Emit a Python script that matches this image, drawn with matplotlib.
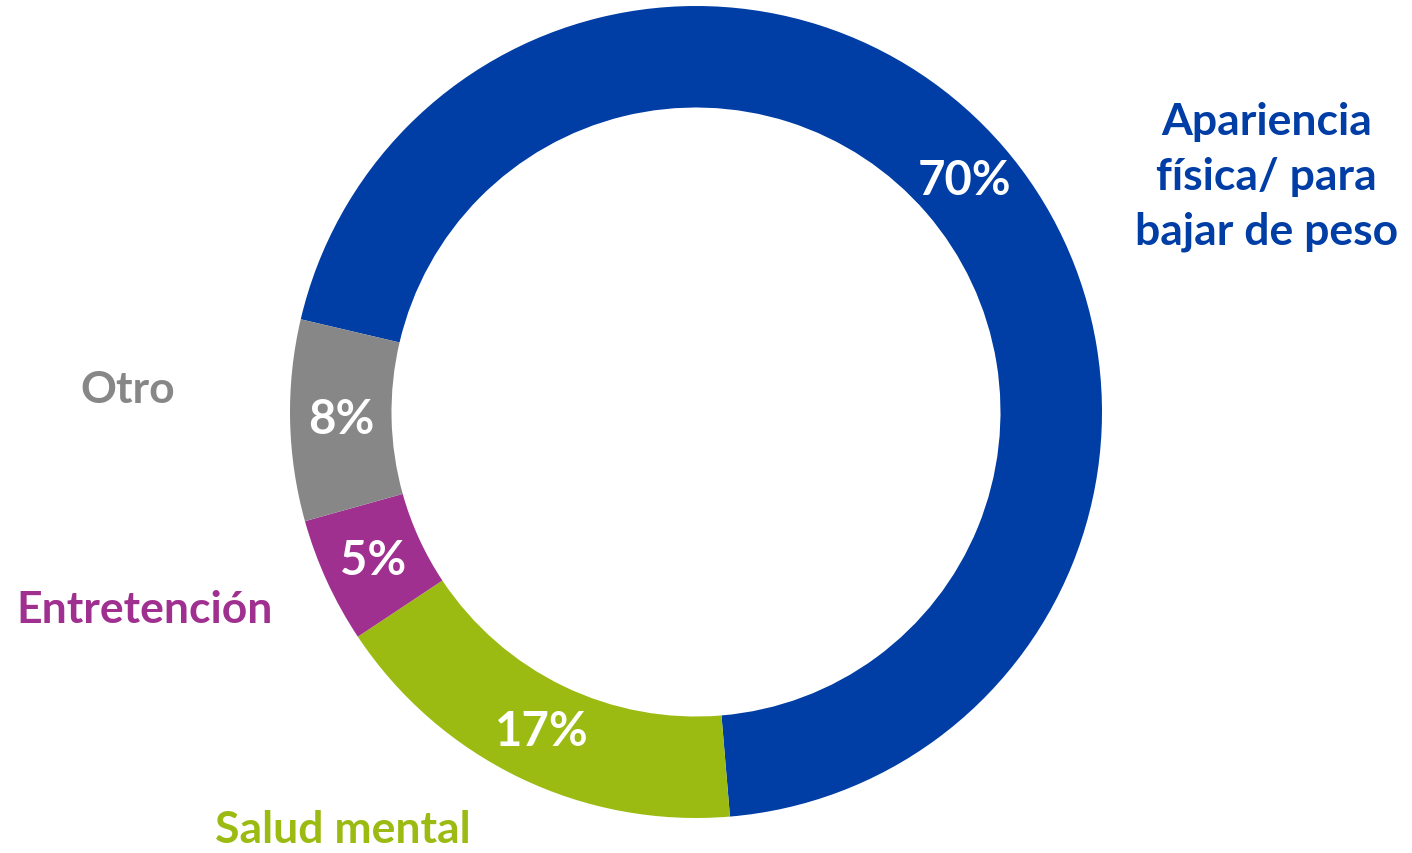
import matplotlib.pyplot as plt

# datos del gráfico
categorias = ["Apariencia\nfísica/ para\nbajar de peso", "Salud mental", "Entretención", "Otro"]
valores = [70, 17, 5, 8]
colores = ["#003DA5", "#9BBB12", "#A03090", "#878787"]
# posición de las etiquetas de categoría (coordenadas de datos)
pos_etiquetas = [(1.406, 0.581), (-0.869, -1.027), (-1.357, -0.485), (-1.399, 0.057)]

plt.rcParams['font.family'] = ['Lato', 'DejaVu Sans']

fig = plt.figure(figsize=(14.12, 8.54), dpi=100)
ax = fig.add_axes([290 / 1412, 35 / 854, 812 / 1412, 812 / 854])

wedges, texts, autotexts = ax.pie(
    valores, colors=colores, startangle=166.8, counterclock=False,
    radius=1, wedgeprops=dict(width=0.25, linewidth=0),
    autopct='%d%%', pctdistance=0.874,
    textprops=dict(color='white', fontsize=34, fontweight='bold'))

for cat, col, (x, y) in zip(categorias, colores, pos_etiquetas):
    ax.text(x, y, cat, color=col, fontsize=32, fontweight='bold',
            ha='center', va='center', linespacing=1.45, clip_on=False)

ax.set_xlim(-1, 1)
ax.set_ylim(-1, 1)
ax.set_aspect('equal')
ax.axis('off')

plt.savefig('out.png', dpi=100)
